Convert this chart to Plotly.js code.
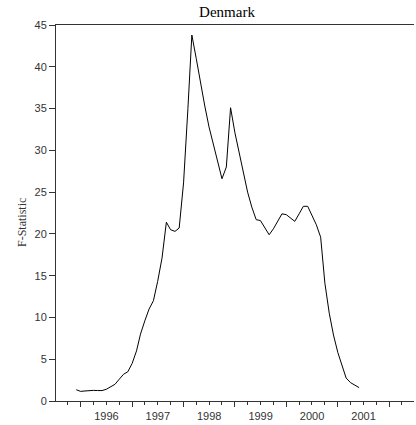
<!DOCTYPE html>
<html>
<head>
<meta charset="utf-8">
<script src="https://cdn.plot.ly/plotly-3.0.1.min.js"></script>
<style>
html,body{margin:0;padding:0;background:#fff;overflow:hidden;}
#chart{width:416px;height:425px;}
</style>
</head>
<body>
<div id="chart"></div>
<script>
const months = [
  "1995-12-01",
  "1996-01-01","1996-02-01","1996-03-01","1996-04-01","1996-05-01","1996-06-01",
  "1996-07-01","1996-08-01","1996-09-01","1996-10-01","1996-11-01","1996-12-01",
  "1997-01-01","1997-02-01","1997-03-01","1997-04-01","1997-05-01","1997-06-01",
  "1997-07-01","1997-08-01","1997-09-01","1997-10-01","1997-11-01","1997-12-01",
  "1998-01-01","1998-02-01","1998-03-01","1998-04-01","1998-05-01","1998-06-01",
  "1998-07-01","1998-08-01","1998-09-01","1998-10-01","1998-11-01","1998-12-01",
  "1999-01-01","1999-02-01","1999-03-01","1999-04-01","1999-05-01","1999-06-01",
  "1999-07-01","1999-08-01","1999-09-01","1999-10-01","1999-11-01","1999-12-01",
  "2000-01-01","2000-02-01","2000-03-01","2000-04-01","2000-05-01","2000-06-01",
  "2000-07-01","2000-08-01","2000-09-01","2000-10-01","2000-11-01","2000-12-01",
  "2001-01-01","2001-02-01","2001-03-01","2001-04-01","2001-05-01","2001-06-01"
];
const fStatistic = [
  1.35,
  1.15, 1.2, 1.27, 1.27, 1.25, 1.25,
  1.4, 1.7, 2.0, 2.6, 3.2, 3.5,
  4.5, 6.0, 8.0, 9.6, 11.0, 12.0,
  14.3, 17.1, 21.4, 20.5, 20.3, 20.7,
  26.1, 35.0, 43.8, 41.0, 38.0, 35.3,
  32.8, 30.7, 28.5, 26.6, 28.0, 35.1,
  32.1, 29.6, 27.2, 25.0, 23.2, 21.7,
  21.6, 20.7, 19.9, 20.6, 21.6, 22.4,
  22.3, 21.9, 21.5, 22.4, 23.3, 23.3,
  22.2, 21.1, 19.6, 14.1, 10.5, 7.9,
  5.8, 4.2, 2.75, 2.2, 1.9, 1.6
];
const chartTitle = "Denmark";
const yTitle = "F-Statistic";

const trace = {
  x: months,
  y: fStatistic,
  type: "scatter",
  mode: "lines",
  line: {color: "#000", width: 1},
  hoverinfo: "skip"
};

const plotW = 416 - 56 - 2, plotH = 425 - 25 - 24;

const layout = {
  width: 416,
  height: 425,
  margin: {l: 56, r: 2, t: 25, b: 24},
  paper_bgcolor: "#fff",
  plot_bgcolor: "#fff",
  showlegend: false,
  title: {
    text: chartTitle,
    font: {family: "Liberation Serif, Times New Roman, serif", size: 15, color: "#000"},
    x: 227/416, xanchor: "center", xref: "container",
    y: 1 - 12/425, yanchor: "middle", yref: "container"
  },
  annotations: [{
    text: yTitle,
    textangle: -90,
    xref: "paper", yref: "paper",
    x: (22 - 56) / plotW, y: 1 - (223 - 25) / plotH,
    xanchor: "center", yanchor: "middle",
    showarrow: false,
    font: {family: "Liberation Serif, Times New Roman, serif", size: 12, color: "#333"}
  }],
  xaxis: {
    type: "date",
    range: ["1995-07-10", "2002-06-26"],
    tick0: "1996-01-01",
    dtick: "M12",
    ticklabelmode: "period",
    tickformat: "%Y",
    ticks: "outside",
    ticklen: 5,
    tickwidth: 1,
    tickcolor: "#333",
    minor: {dtick: "M3", ticks: "outside", ticklen: 3, tickcolor: "#333", tickwidth: 1, showgrid: false},
    showline: true,
    linecolor: "#333",
    linewidth: 1,
    mirror: true,
    showgrid: false,
    zeroline: false,
    tickfont: {family: "Liberation Sans, Arial, sans-serif", size: 11, color: "#333"}
  },
  yaxis: {
    range: [0, 45],
    dtick: 5,
    tick0: 0,
    ticks: "outside",
    ticklen: 6,
    tickwidth: 1,
    tickcolor: "#333",
    showline: true,
    linecolor: "#333",
    linewidth: 1,
    showgrid: false,
    zeroline: false,
    tickfont: {family: "Liberation Sans, Arial, sans-serif", size: 11, color: "#333"}
  }
};

Plotly.newPlot("chart", [trace], layout, {displayModeBar: false, staticPlot: true});
</script>
</body>
</html>
